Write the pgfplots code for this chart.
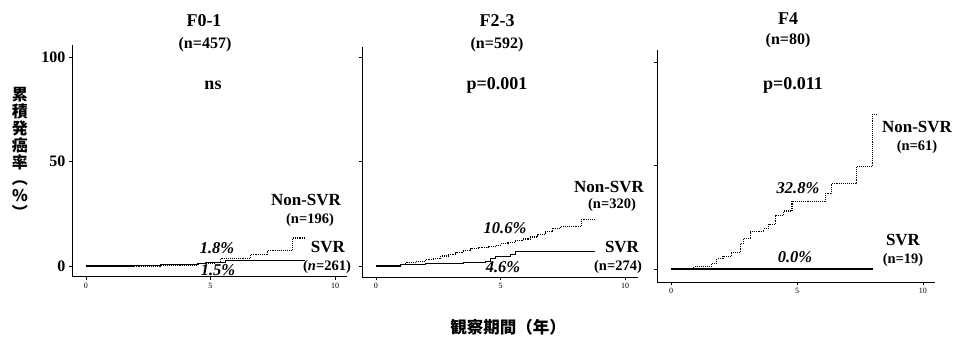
\documentclass[border=0pt]{standalone}
\usepackage{pgfplots}
\pgfplotsset{compat=1.18}
\usepackage{fontspec}
\setmainfont{Liberation Serif}
\newfontfamily\cjk{Noto Sans CJK JP}
\begin{document}
\begin{tikzpicture}
\useasboundingbox (0pt,0pt) rectangle (956pt,343pt);
\pgfplotsset{
  panel/.style={scale only axis, anchor=south west, axis lines=left,
    axis line style={-, line width=1pt},
    xtick={0,5,10}, ytick={0,50,100}, tick align=outside,
    major tick length=3pt, tick style={line width=0.8pt, black},
    x tick label style={font=\fontsize{8}{8}\selectfont},
    y tick label style={font=\bfseries\fontsize{16}{16}\selectfont},
    /pgf/number format/assume math mode=true, clip=false},
  nonsvr/.style={const plot, densely dotted, line width=1.1pt, black, mark=none},
  svr/.style={const plot, solid, line width=1.1pt, black, mark=none}
}
% Panel 1
\begin{axis}[panel, at={(72pt,66pt)}, width=275pt, height=232pt,
  xmin=-0.56, xmax=10.48, ymin=-5.26, ymax=105.7]
\addplot[nonsvr] coordinates {(0,0) (3.0,0.5) (4.5,1.0) (5.2,1.8) (5.4,3.5) (6.6,5.3) (7.3,7.2) (8.3,13.4) (8.8,13.4)};
\addplot[svr] coordinates {(0,0) (1.9,0.3) (3.0,0.6) (4.5,1.0) (4.8,1.5) (5.6,2.7) (8.8,2.7)};
\end{axis}
% Panel 2
\begin{axis}[panel, at={(362pt,66pt)}, width=276pt, height=230pt,
  xmin=-0.56, xmax=10.52, ymin=-5.26, ymax=104.8, yticklabels={,,}]
\addplot[nonsvr] coordinates {(0,0) (0.5,0.3) (1.0,0.8) (1.2,1.5) (1.6,2.0) (2.0,3.0) (2.3,3.8) (2.6,4.8) (2.9,5.6) (3.2,6.3) (3.5,7.5) (3.8,8.3) (4.1,8.8) (4.5,9.5) (4.8,10.0) (5.0,10.6) (5.3,11.2) (5.6,12.0) (5.9,12.9) (6.2,13.9) (6.5,15.0) (6.8,16.5) (7.1,18.0) (7.4,19.1) (8.25,22.3) (8.8,22.3)};
\addplot[svr] coordinates {(0,0) (1.0,0.6) (2.0,1.3) (3.5,1.6) (4.4,2.2) (4.6,3.5) (4.8,4.6) (5.4,5.6) (5.6,7.1) (8.8,7.1)};
\end{axis}
% Panel 3
\begin{axis}[panel, at={(657pt,61pt)}, width=278pt, height=232pt,
  xmin=-0.56, xmax=10.48, ymin=-6.3, ymax=105.8, yticklabels={,,}]
\addplot[nonsvr] coordinates {(0.77,0) (0.9,1.1) (1.62,2.7) (1.82,5.1) (2.06,6.2) (2.41,8.0) (2.75,12.3) (2.88,14.7) (3.15,17.9) (3.67,19.5) (3.87,21.6) (4.14,25.9) (4.47,28.0) (4.80,32.8) (6.12,36.3) (6.38,41.1) (7.35,49.6) (8.01,74.8) (8.17,74.8)};
\addplot[svr] coordinates {(0,0) (8.0,0)};
\end{axis}
% Texts
\node[font=\bfseries\fontsize{18}{18}\selectfont] at (204pt,322pt) {F0-1};
\node[font=\bfseries\fontsize{16}{16}\selectfont] at (205pt,298pt) {(n=457)};
\node[font=\bfseries\fontsize{18}{18}\selectfont] at (213pt,258pt) {ns};
\node[font=\bfseries\fontsize{17}{17}\selectfont] at (306pt,143pt) {Non-SVR};
\node[font=\bfseries\fontsize{14.5}{14.5}\selectfont] at (310pt,123pt) {(n=196)};
\node[font=\bfseries\fontsize{17}{17}\selectfont] at (328pt,96pt) {SVR};
\node[font=\bfseries\fontsize{14.5}{14.5}\selectfont] at (327pt,76pt) {(\textit{n}=261)};
\node[font=\bfseries\itshape\fontsize{16.5}{16.5}\selectfont] at (217pt,95pt) {1.8\%};
\node[font=\bfseries\itshape\fontsize{16.5}{16.5}\selectfont] at (218pt,73pt) {1.5\%};

\node[font=\bfseries\fontsize{18}{18}\selectfont] at (497pt,322pt) {F2-3};
\node[font=\bfseries\fontsize{16}{16}\selectfont] at (497pt,298pt) {(n=592)};
\node[font=\bfseries\fontsize{18}{18}\selectfont] at (497pt,258pt) {p=0.001};
\node[font=\bfseries\fontsize{17}{17}\selectfont] at (609pt,156pt) {Non-SVR};
\node[font=\bfseries\fontsize{14.5}{14.5}\selectfont] at (612pt,138pt) {(n=320)};
\node[font=\bfseries\itshape\fontsize{16.5}{16.5}\selectfont] at (505pt,115pt) {10.6\%};
\node[font=\bfseries\fontsize{17}{17}\selectfont] at (622pt,96pt) {SVR};
\node[font=\bfseries\fontsize{14.5}{14.5}\selectfont] at (618pt,76pt) {(n=274)};
\node[font=\bfseries\itshape\fontsize{16.5}{16.5}\selectfont] at (503pt,76pt) {4.6\%};

\node[font=\bfseries\fontsize{18}{18}\selectfont] at (788pt,324pt) {F4};
\node[font=\bfseries\fontsize{16}{16}\selectfont] at (788pt,302pt) {(n=80)};
\node[font=\bfseries\fontsize{18}{18}\selectfont] at (793pt,258pt) {p=0.011};
\node[font=\bfseries\fontsize{17}{17}\selectfont] at (917pt,216pt) {Non-SVR};
\node[font=\bfseries\fontsize{14.5}{14.5}\selectfont] at (917pt,196pt) {(n=61)};
\node[font=\bfseries\itshape\fontsize{16.5}{16.5}\selectfont] at (798pt,155pt) {32.8\%};
\node[font=\bfseries\fontsize{17}{17}\selectfont] at (903pt,103pt) {SVR};
\node[font=\bfseries\fontsize{14.5}{14.5}\selectfont] at (903pt,83pt) {(n=19)};
\node[font=\bfseries\itshape\fontsize{16.5}{16.5}\selectfont] at (795pt,86pt) {0.0\%};
% Axis titles
\node[align=center, font=\cjk\bfseries\fontsize{16}{16.8}\selectfont, inner sep=0pt] at (20pt,190pt) {累\\積\\発\\癌\\率\\︵\\\%\\︶};
\node[font=\cjk\bfseries\fontsize{16.5}{16.5}\selectfont] at (508pt,16pt) {観察期間（年）};
\end{tikzpicture}
\end{document}
